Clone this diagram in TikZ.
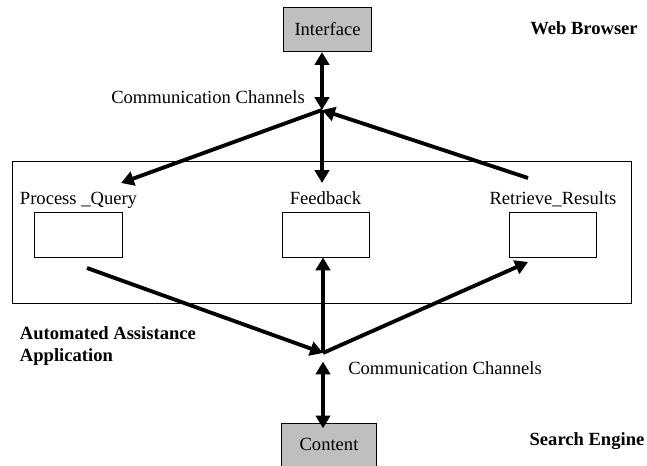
\documentclass[12pt,tikz,border=0pt]{standalone}
\usepackage{fontspec}
\setmainfont{Liberation Serif}
\usetikzlibrary{arrows.meta,positioning}
\newcommand{\diagfont}{\fontsize{13}{15.5}\selectfont}

\begin{document}
\begin{tikzpicture}[
    x=0.7pt, y=-0.7pt,
    font=\diagfont,
    graybox/.style={rectangle, draw, line width=0.6pt, fill=gray!50, minimum width=62pt, minimum height=31pt, align=center},
    compbox/.style={rectangle, draw, line width=0.6pt, minimum width=61pt, minimum height=31.5pt},
    complabel/.style={inner sep=0pt, text depth=0pt},
    tag/.style={font=\diagfont\bfseries, align=left},
    arrow/.style={-{Triangle[length=9pt, width=10pt]}, line width=2.7pt},
    dblarrow/.style={{Triangle[length=9pt, width=10pt]}-{Triangle[length=9pt, width=10pt]}, line width=2.7pt}
]
    \useasboundingbox (0,0) rectangle (647,466);

    % Browser side
    \node[graybox] (iface) at (327.5,29.5) {Interface};
    \node[tag] (browser) at (584,28) {Web Browser};
    \coordinate (tophub) at (322,110);
    \node (chtop) at (208,97) {Communication Channels};

    % Application
    \node[rectangle, draw, line width=0.6pt, minimum width=433.3pt, minimum height=99.4pt] (app) at (321.5,232) {};
    \node[compbox] (pq) at (78.5,234.5) {};
    \node[compbox] (fb) at (325.5,234.5) {};
    \node[compbox] (rr) at (553,234.5) {};
    \node[complabel, above=5pt of pq] (pqlabel) {Process \_Query};
    \node[complabel, above=5pt of fb] (fblabel) {Feedback};
    \node[complabel, above=5pt of rr] (rrlabel) {Retrieve\_Results};
    \node[tag, anchor=west] (apptag) at (14,346) {Automated Assistance\\Application};

    % Search engine side
    \coordinate (bothub) at (323,353);
    \node (chbot) at (445,368) {Communication Channels};
    \node[graybox, minimum width=66pt, minimum height=30pt] (content) at (329,444.5) {Content};
    \node[tag] (engine) at (587,441) {Search Engine};

    % Free ends of the connectors
    \coordinate (pqin) at (121,183);
    \coordinate (fbin) at (322,183);
    \coordinate (rrout) at (528,178);
    \coordinate (pqout) at (87,268);
    \coordinate (rrin) at (528,262);

    % Top connectors
    \draw[dblarrow] (tophub |- iface.south) -- (tophub);
    \draw[arrow] (tophub) -- (fbin);
    \draw[arrow] (tophub) -- (pqin);
    \draw[arrow] (rrout) -- (tophub);

    % Bottom connectors
    \draw[arrow] (pqout) -- (bothub);
    \draw[arrow] (bothub) -- (bothub |- fb.south);
    \draw[arrow] (bothub) -- (rrin);
    \draw[dblarrow] ([yshift=-6pt]bothub) -- ([yshift=-4pt]bothub |- content.north);

\end{tikzpicture}
\end{document}
